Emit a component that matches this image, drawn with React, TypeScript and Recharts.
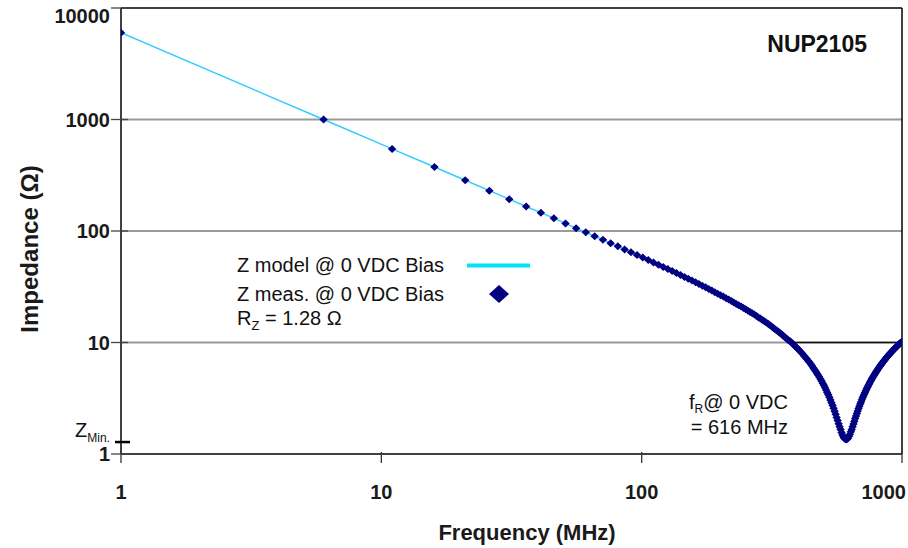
import React from 'react';
import { ComposedChart, Line, Scatter, XAxis, YAxis, ReferenceLine } from 'recharts';

const FONT = '"Liberation Sans", Arial, Helvetica, sans-serif';

// Measured frequencies (MHz)
const frequencies = [
  1, 6, 11, 16, 21, 26, 31, 36, 41, 46, 51, 56, 61, 66, 71, 76, 81, 86, 91, 96,
  101, 106, 111, 116, 121, 126, 131, 136, 141, 146, 151, 156, 161, 166, 171, 176, 181, 186, 191, 196,
  201, 206, 211, 216, 221, 226, 231, 236, 241, 246, 251, 256, 261, 266, 271, 276, 281, 286, 291, 296,
  301, 306, 311, 316, 321, 326, 331, 336, 341, 346, 351, 356, 361, 366, 371, 376, 381, 386, 391, 396,
  401, 406, 411, 416, 421, 426, 431, 436, 441, 446, 451, 456, 461, 466, 471, 476, 481, 486, 491, 496,
  501, 506, 511, 516, 521, 526, 531, 536, 541, 546, 551, 556, 561, 566, 571, 576, 581, 586, 591, 596,
  601, 606, 611, 616, 621, 626, 631, 636, 641, 646, 651, 656, 661, 666, 671, 676, 681, 686, 691, 696,
  701, 706, 711, 716, 721, 726, 731, 736, 741, 746, 751, 756, 761, 766, 771, 776, 781, 786, 791, 796,
  801, 806, 811, 816, 821, 826, 831, 836, 841, 846, 851, 856, 861, 866, 871, 876, 881, 886, 891, 896,
  901, 906, 911, 916, 921, 926, 931, 936, 941, 946, 951, 956, 961, 966, 971, 976, 981, 986, 991, 996,
];

// Impedance (Ohm)
const impedance = [
  6000, 1000, 545, 375, 285, 230, 193, 166, 146, 130, 117, 106, 97.4, 89.8, 83.4, 77.7, 72.8, 68.4, 64.5, 61.0,
  57.8, 54.9, 52.3, 49.9, 47.6, 45.6, 43.7, 41.9, 40.3, 38.7, 37.3, 35.9, 34.7, 33.5, 32.3, 31.3, 30.2, 29.3, 28.3, 27.4,
  26.6, 25.8, 25.0, 24.3, 23.6, 22.9, 22.2, 21.6, 21.0, 20.4, 19.9, 19.3, 18.8, 18.3, 17.8, 17.3, 16.8, 16.4, 15.9, 15.5,
  15.1, 14.7, 14.3, 13.9, 13.5, 13.1, 12.8, 12.4, 12.1, 11.8, 11.4, 11.1, 10.8, 10.5, 10.3, 9.99, 9.70, 9.42, 9.15, 8.87,
  8.61, 8.34, 8.08, 7.83, 7.58, 7.34, 7.10, 6.86, 6.64, 6.40, 6.18, 5.95, 5.74, 5.53, 5.31, 5.11, 4.91, 4.71, 4.51, 4.32,
  4.13, 3.94, 3.75, 3.57, 3.40, 3.23, 3.05, 2.88, 2.73, 2.57, 2.42, 2.27, 2.13, 2.00, 1.87, 1.76, 1.66, 1.56, 1.48, 1.42,
  1.38, 1.36, 1.35, 1.36, 1.39, 1.44, 1.50, 1.58, 1.66, 1.76, 1.86, 1.97, 2.08, 2.19, 2.31, 2.43, 2.56, 2.68, 2.81, 2.93,
  3.06, 3.19, 3.31, 3.44, 3.57, 3.70, 3.83, 3.95, 4.08, 4.21, 4.34, 4.46, 4.59, 4.72, 4.84, 4.97, 5.09, 5.22, 5.34, 5.47,
  5.59, 5.71, 5.84, 5.96, 6.08, 6.21, 6.33, 6.44, 6.57, 6.69, 6.81, 6.92, 7.05, 7.17, 7.29, 7.40, 7.52, 7.64, 7.75, 7.87,
  7.99, 8.10, 8.21, 8.33, 8.45, 8.56, 8.68, 8.79, 8.90, 9.01, 9.13, 9.24, 9.35, 9.47, 9.58, 9.68, 9.79, 9.90, 10.0, 10.1,
];

const xTicks = [1, 10, 100, 1000];
const yTicks = [1, 1.28, 10, 100, 1000, 10000];
const gridValues = [10, 100, 1000];
const Z_MIN = 1.28;
const X_DOMAIN = [1, 1000];
const Y_DOMAIN = [1, 10000];
const BLACK_10_SEGMENT = [370, 1000];

const data = frequencies.map((f, i) => ({ f, z: impedance[i] }));

const YTick = (props: any) => {
  const { x, y, payload } = props;
  const v = payload.value;
  if (v === Z_MIN) {
    return (
      <g>
        <line x1={x - 6} x2={x + 9} y1={y} y2={y} stroke="#000" strokeWidth={2.5} />
        <text x={x - 46} y={y - 5} fontSize={20} fontFamily={FONT} fill="#111">
          Z<tspan fontSize={12} dy={5}>Min.</tspan>
        </text>
      </g>
    );
  }
  const ty = Math.max(y, 16);
  return (
    <g>
      <line x1={x - 10} x2={x + 7} y1={y} y2={y} stroke="#444" strokeWidth={1.3} />
      <text x={x - 11} y={ty + 7} textAnchor="end" fontSize={20} fontWeight="bold" fontFamily={FONT} fill="#1a1a1a">
        {v}
      </text>
    </g>
  );
};

const XTick = (props: any) => {
  const { x, y, payload } = props;
  const atEdge = x > 880;
  return (
    <g>
      <line x1={x} x2={x} y1={y - 2} y2={y + 9} stroke="#333" strokeWidth={1.3} />
      <text
        x={atEdge ? 906 : x}
        y={y + 45}
        textAnchor={atEdge ? 'end' : 'middle'}
        fontSize={20}
        fontWeight="bold"
        fontFamily={FONT}
        fill="#1a1a1a"
      >
        {payload.value}
      </text>
    </g>
  );
};

const Diamond = (props: any) => {
  const { cx, cy } = props;
  if (cx == null || cy == null) return null;
  const w = 4.2;
  const h = 4.0;
  return <polygon points={`${cx},${cy - h} ${cx + w},${cy} ${cx},${cy + h} ${cx - w},${cy}`} fill="#000080" />;
};

export default function App() {
  return (
    <div style={{ position: 'absolute', left: 0, top: 0, width: 908, height: 548, background: '#fff' }}>
      <ComposedChart
        width={908}
        height={548}
        data={data}
        margin={{ top: 8, right: 6, bottom: 34, left: 61 }}
      >
        <XAxis
          dataKey="f"
          type="number"
          scale="log"
          domain={X_DOMAIN}
          ticks={xTicks}
          interval={0}
          allowDataOverflow
          height={60}
          tickSize={0}
          tickMargin={0}
          tickLine={false}
          tick={<XTick />}
          axisLine={{ stroke: '#000', strokeWidth: 1.5 }}
        />
        <YAxis
          type="number"
          scale="log"
          domain={Y_DOMAIN}
          ticks={yTicks}
          interval={0}
          allowDataOverflow
          width={60}
          tickSize={0}
          tickMargin={0}
          tickLine={false}
          tick={<YTick />}
          axisLine={{ stroke: '#000', strokeWidth: 1.5 }}
        />
        {gridValues.map((g) => (
          <ReferenceLine key={g} y={g} stroke="#9a9a9a" strokeWidth={2} />
        ))}
        <ReferenceLine
          segment={[
            { x: BLACK_10_SEGMENT[0], y: 10 },
            { x: BLACK_10_SEGMENT[1], y: 10 },
          ]}
          stroke="#111"
          strokeWidth={1.5}
        />
        <ReferenceLine y={10000} stroke="#000" strokeWidth={1.5} />
        <ReferenceLine x={1000} stroke="#000" strokeWidth={1.5} />
        <Line
          dataKey="z"
          stroke="#33ccff"
          strokeWidth={1.5}
          dot={false}
          activeDot={false}
          isAnimationActive={false}
          type="linear"
        />
        <Scatter dataKey="z" fill="#000080" shape={<Diamond />} isAnimationActive={false} />
      </ComposedChart>
      <svg
        width={908}
        height={548}
        style={{ position: 'absolute', left: 0, top: 0, pointerEvents: 'none' }}
      >
        <text x={867} y={52} textAnchor="end" fontSize={23} fontWeight="bold" fontFamily={FONT} fill="#111">
          NUP2105
        </text>
        <text x={237} y={272} fontSize={20} fontFamily={FONT} fill="#111">
          Z model @ 0 VDC Bias
        </text>
        <line x1={467} x2={530} y1={265.5} y2={265.5} stroke="#00e5f0" strokeWidth={4} />
        <text x={237} y={301} fontSize={20} fontFamily={FONT} fill="#111">
          Z meas. @ 0 VDC Bias
        </text>
        <polygon points="499,285 509,294 499,303 489,294" fill="#000080" />
        <text x={237} y={325} fontSize={20} fontFamily={FONT} fill="#111">
          R<tspan fontSize={13} dy={5}>Z</tspan>
          <tspan dy={-5}> = 1.28 Ω</tspan>
        </text>
        <text x={788} y={409} textAnchor="end" fontSize={20} fontFamily={FONT} fill="#111">
          f<tspan fontSize={12} dy={4}>R</tspan>
          <tspan dy={-4}>@ 0 VDC</tspan>
        </text>
        <text x={788} y={434} textAnchor="end" fontSize={20} fontFamily={FONT} fill="#111">
          = 616 MHz
        </text>
        <text x={527} y={540} textAnchor="middle" fontSize={22} fontWeight="bold" fontFamily={FONT} fill="#1a1a1a">
          Frequency (MHz)
        </text>
        <text
          transform="translate(38,249) rotate(-90)"
          textAnchor="middle"
          fontSize={24}
          fontWeight="bold"
          fontFamily={FONT}
          fill="#1a1a1a"
        >
          Impedance (Ω)
        </text>
      </svg>
    </div>
  );
}
